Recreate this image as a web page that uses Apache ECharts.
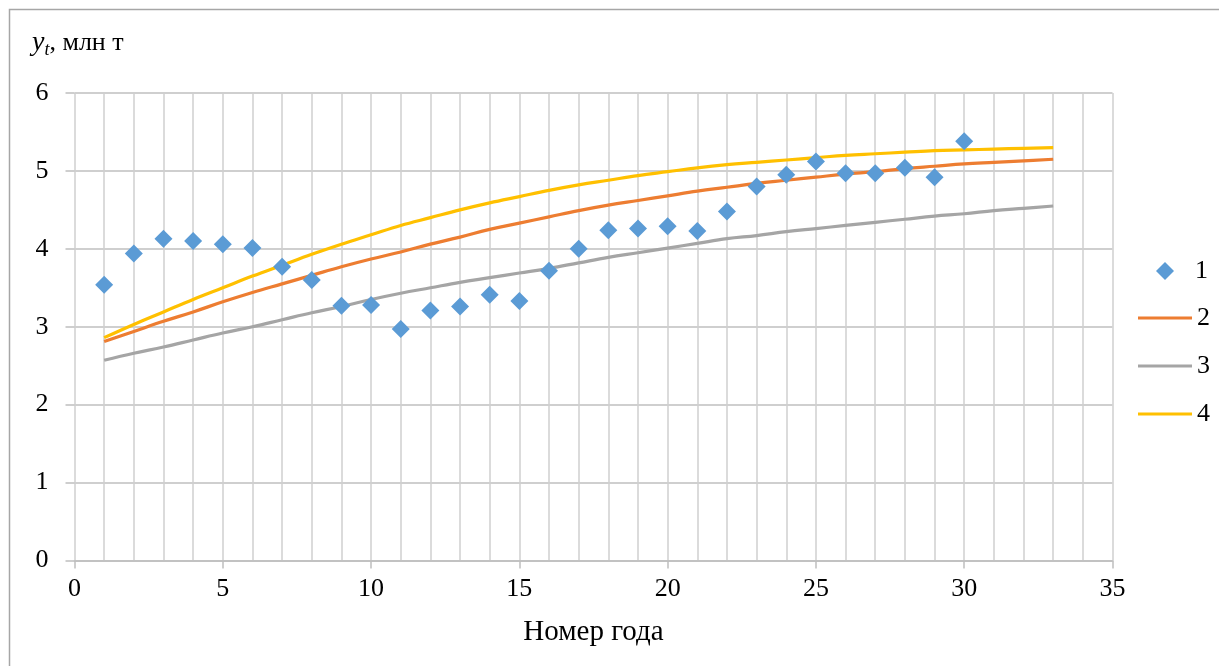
<!DOCTYPE html>
<html>
<head>
<meta charset="utf-8">
<script src="https://cdn.jsdelivr.net/npm/echarts@6/dist/echarts.min.js"></script>
<style>
  html, body { margin: 0; padding: 0; background: #fff; }
  #chart { width: 1219px; height: 666px; }
</style>
</head>
<body>
<div id="chart"></div>
<script>
// observed values, series 1 (points)
const years = [1, 2, 3, 4, 5, 6, 7, 8, 9, 10, 11, 12, 13, 14, 15, 16, 17, 18, 19, 20,
  21, 22, 23, 24, 25, 26, 27, 28, 29, 30]
const observed = [3.54, 3.94, 4.13, 4.10, 4.06, 4.01, 3.77, 3.60, 3.27, 3.28, 2.97, 3.21,
  3.26, 3.41, 3.33, 3.72, 4.00, 4.24, 4.26, 4.29, 4.23, 4.48, 4.80, 4.95, 5.12, 4.97,
  4.97, 5.04, 4.92, 5.38]

// model curves 2..4, read at every year 1..33
const curveYears = [1, 2, 3, 4, 5, 6, 7, 8, 9, 10, 11, 12, 13, 14, 15, 16, 17, 18, 19, 20,
  21, 22, 23, 24, 25, 26, 27, 28, 29, 30, 31, 32, 33]
const curve2 = [2.81, 2.94, 3.07, 3.19, 3.32, 3.44, 3.55, 3.66, 3.77, 3.87, 3.96, 4.06,
  4.15, 4.25, 4.33, 4.41, 4.49, 4.56, 4.62, 4.68, 4.74, 4.79, 4.84, 4.88, 4.92, 4.96,
  4.99, 5.03, 5.06, 5.09, 5.11, 5.13, 5.15]
const curve3 = [2.57, 2.66, 2.74, 2.83, 2.92, 3.00, 3.09, 3.18, 3.26, 3.35, 3.43, 3.50,
  3.57, 3.63, 3.69, 3.75, 3.82, 3.89, 3.95, 4.01, 4.07, 4.13, 4.17, 4.22, 4.26, 4.30,
  4.34, 4.38, 4.42, 4.45, 4.49, 4.52, 4.55]
const curve4 = [2.86, 3.03, 3.19, 3.35, 3.50, 3.65, 3.79, 3.93, 4.06, 4.18, 4.30, 4.40,
  4.50, 4.59, 4.67, 4.75, 4.82, 4.88, 4.94, 4.99, 5.04, 5.08, 5.11, 5.14, 5.17, 5.20,
  5.22, 5.24, 5.26, 5.27, 5.28, 5.29, 5.30]

const seriesNames = ['1', '2', '3', '4']
const colors = ['#5B9BD5', '#ED7D31', '#A5A5A5', '#FFC000']

const FONT = 'Liberation Serif'
const pairs = (xs, ys) => xs.map((x, i) => [x, ys[i]])

const lineSeries = (name, color, ys) => ({
  name,
  type: 'line',
  data: pairs(curveYears, ys),
  symbol: 'none',
  smooth: 0.4,
  lineStyle: { color, width: 3.2 },
  itemStyle: { color },
  z: 3,
})

const chart = echarts.init(document.getElementById('chart'), null, { renderer: 'canvas' })

chart.setOption({
  animation: false,
  textStyle: { fontFamily: FONT, color: '#000' },
  grid: { left: 74.5, right: 106.5, top: 93, bottom: 105.5 },
  graphic: [
    {
      type: 'rect',
      shape: { x: 9.5, y: 9.5, width: 1300, height: 700 },
      style: { fill: 'none', stroke: '#A6A6A6', lineWidth: 1.5 },
      silent: true,
    },
    {
      type: 'text',
      left: 32,
      top: 29,
      style: {
        text: '{i|y}{s|t}{n|, млн т}',
        rich: {
          i: { fontFamily: FONT, fontStyle: 'italic', fontSize: 28, fill: '#000' },
          s: { fontFamily: FONT, fontStyle: 'italic', fontSize: 18, fill: '#000', padding: [15, 0, 0, 0] },
          n: { fontFamily: FONT, fontSize: 26, fill: '#000' },
        },
      },
    },
  ],
  legend: [
    {
      data: [{ name: '1', icon: 'diamond' }],
      orient: 'vertical',
      left: 1151,
      top: 253,
      itemWidth: 18,
      itemHeight: 18,
      textStyle: { fontFamily: FONT, fontSize: 26, color: '#000', lineHeight: 26, padding: [0, 0, 0, 16] },
    },
    {
      data: [
        { name: '2', icon: 'rect' },
        { name: '3', icon: 'rect' },
        { name: '4', icon: 'rect' },
      ],
      orient: 'vertical',
      left: 1133,
      top: 300,
      itemWidth: 54,
      itemHeight: 3,
      itemGap: 22,
      textStyle: { fontFamily: FONT, fontSize: 26, color: '#000', lineHeight: 26 },
    },
  ],
  xAxis: {
    type: 'value',
    min: 0,
    max: 35,
    interval: 5,
    name: 'Номер года',
    nameLocation: 'middle',
    nameGap: 57,
    nameTextStyle: { fontFamily: FONT, fontSize: 29, color: '#000' },
    axisLine: { show: true, lineStyle: { color: '#BFBFBF', width: 1.5 } },
    axisTick: { show: true, length: 8, lineStyle: { color: '#BFBFBF', width: 1.5 } },
    axisLabel: { fontFamily: FONT, fontSize: 26, color: '#000', margin: 16 },
    splitLine: { show: true, lineStyle: { color: '#CFCFCF', width: 1.5 } },
    minorTick: { show: false, splitNumber: 5 },
    minorSplitLine: { show: true, lineStyle: { color: '#CFCFCF', width: 1.5 } },
  },
  yAxis: {
    type: 'value',
    min: 0,
    max: 6,
    interval: 1,
    axisLine: { show: false },
    axisTick: { show: true, length: 9, lineStyle: { color: '#BFBFBF', width: 1.5 } },
    axisLabel: { fontFamily: FONT, fontSize: 26, color: '#000', margin: 26 },
    splitLine: { show: true, lineStyle: { color: '#BFBFBF', width: 1.5 } },
  },
  series: [
    {
      name: seriesNames[0],
      type: 'scatter',
      data: pairs(years, observed),
      symbol: 'diamond',
      symbolSize: 18,
      itemStyle: { color: colors[0], opacity: 1 },
      z: 4,
    },
    lineSeries(seriesNames[1], colors[1], curve2),
    lineSeries(seriesNames[2], colors[2], curve3),
    lineSeries(seriesNames[3], colors[3], curve4),
  ],
})
</script>
</body>
</html>
